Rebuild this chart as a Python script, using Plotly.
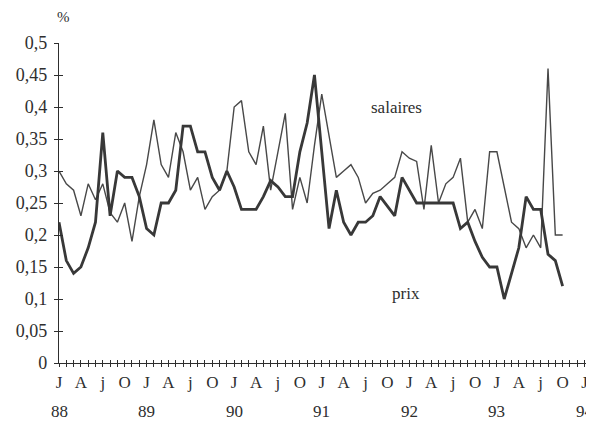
import plotly.graph_objects as go

# Monthly data, January 1988 onwards (month index 0 = J 88)
prix = [0.22, 0.16, 0.14, 0.15, 0.18, 0.22, 0.36, 0.23, 0.30, 0.29, 0.29, 0.26,
        0.21, 0.20, 0.25, 0.25, 0.27, 0.37, 0.37, 0.33, 0.33, 0.29, 0.27, 0.30,
        0.275, 0.24, 0.24, 0.24, 0.26, 0.285, 0.275, 0.26, 0.26, 0.33, 0.375, 0.45,
        0.33, 0.21, 0.27, 0.22, 0.20, 0.22, 0.22, 0.23, 0.26, 0.245, 0.23, 0.29,
        0.27, 0.25, 0.25, 0.25, 0.25, 0.25, 0.25, 0.21, 0.22, 0.19, 0.165, 0.15,
        0.15, 0.10, 0.14, 0.18, 0.26, 0.24, 0.24, 0.17, 0.16, 0.12]
salaires = [0.30, 0.28, 0.27, 0.23, 0.28, 0.255, 0.28, 0.235, 0.22, 0.25, 0.19, 0.26,
            0.31, 0.38, 0.31, 0.29, 0.36, 0.33, 0.27, 0.29, 0.24, 0.26, 0.27, 0.30,
            0.40, 0.41, 0.33, 0.31, 0.37, 0.27, 0.33, 0.39, 0.24, 0.29, 0.25, 0.34,
            0.42, 0.355, 0.29, 0.30, 0.31, 0.29, 0.25, 0.265, 0.27, 0.28, 0.29, 0.33,
            0.32, 0.315, 0.24, 0.34, 0.25, 0.28, 0.29, 0.32, 0.22, 0.24, 0.21, 0.33,
            0.33, 0.275, 0.22, 0.21, 0.18, 0.20, 0.18, 0.46, 0.20, 0.20]
months = list(range(len(prix)))

quarter_letters = ["J", "A", "j", "O"]
year_labels = ["88", "89", "90", "91", "92", "93", "94"]
ytick_vals = [0, 0.05, 0.1, 0.15, 0.2, 0.25, 0.3, 0.35, 0.4, 0.45, 0.5]
ytick_text = ["0", "0,05", "0,1", "0,15", "0,2", "0,25", "0,3", "0,35", "0,4", "0,45", "0,5"]

n_ticks = 74
xtick_vals = list(range(n_ticks))
xtick_text = [quarter_letters[(m // 3) % 4] if m % 3 == 0 else "" for m in xtick_vals]

ink = "#2e2e2e"
font_family = "'Liberation Serif', 'Times New Roman', Times, 'DejaVu Serif', serif"
x_range = [0, 73.3]

fig = go.Figure()
fig.add_trace(go.Scatter(x=months, y=salaires, mode="lines", name="salaires",
                         line=dict(color="#484848", width=1.4)))
fig.add_trace(go.Scatter(x=months, y=prix, mode="lines", name="prix",
                         line=dict(color="#383838", width=2.8)))
# invisible trace to anchor secondary axes (used for crossing "+" ticks)
fig.add_trace(go.Scatter(x=months, y=prix, xaxis="x2", yaxis="y2", mode="lines",
                         line=dict(width=0), opacity=0, hoverinfo="skip", showlegend=False))

tick_common = dict(showgrid=False, zeroline=False, tickcolor=ink, tickwidth=1.2)

fig.update_layout(
    width=594, height=427,
    # page body adds an 8px offset; margins compensate so the plot sits where the reference has it
    margin=dict(l=44, r=8, t=35, b=72),
    paper_bgcolor="white", plot_bgcolor="white",
    showlegend=False,
    font=dict(family=font_family, color=ink, size=17),
    xaxis=dict(range=x_range, tickmode="array", tickvals=xtick_vals,
               ticktext=xtick_text, ticks="outside", ticklen=3, showline=True,
               linecolor=ink, linewidth=1.3, ticklabelstandoff=0,
               ticklabeloverflow="allow",
               tickfont=dict(size=17, family=font_family, color=ink), **tick_common),
    xaxis2=dict(range=x_range, overlaying="x", anchor="y", side="bottom",
                tickmode="array", tickvals=xtick_vals, ticks="inside", ticklen=3,
                showticklabels=False, showline=False, **tick_common),
    yaxis=dict(range=[0, 0.5], tickmode="array", tickvals=ytick_vals, ticktext=ytick_text,
               ticks="outside", ticklen=4, showline=True, linecolor=ink, linewidth=1.3,
               ticklabelstandoff=3,
               tickfont=dict(size=18, family=font_family, color=ink), **tick_common),
    yaxis2=dict(range=[0, 0.5], overlaying="y", anchor="x", side="left",
                tickmode="array", tickvals=ytick_vals, ticks="inside", ticklen=4,
                showticklabels=False, showline=False, **tick_common),
)

annotations = []
for i, yl in enumerate(year_labels):
    annotations.append(dict(x=i * 12, y=0, xref="x", yref="paper", text=yl,
                            showarrow=False, xanchor="center", yanchor="middle", yshift=-48,
                            font=dict(size=17, family=font_family, color=ink)))
annotations.append(dict(x=0.009, y=1.081, xref="paper", yref="paper", text="%",
                        showarrow=False, xanchor="center", yanchor="middle",
                        font=dict(size=15, family=font_family, color=ink)))
annotations.append(dict(x=46.2, y=0.40, xref="x", yref="y", text="salaires",
                        showarrow=False, font=dict(size=17, family=font_family, color=ink)))
annotations.append(dict(x=47.6, y=0.109, xref="x", yref="y", text="prix",
                        showarrow=False, font=dict(size=17, family=font_family, color=ink)))
fig.update_layout(annotations=annotations)

fig.write_html("out.html")
